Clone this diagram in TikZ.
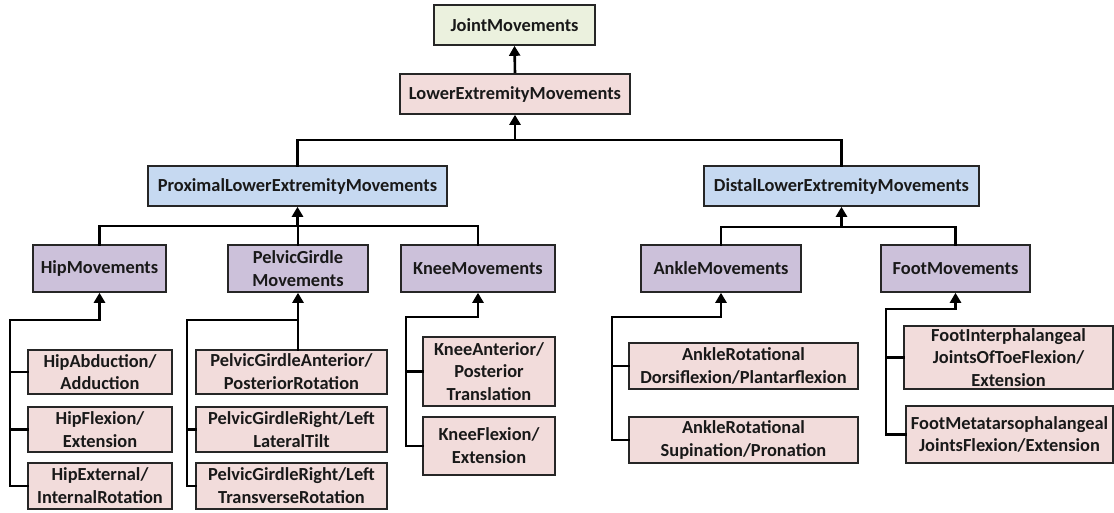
\documentclass[tikz,border=0pt]{standalone}
\usepackage{fontspec}
\setmainfont{Carlito}
\usetikzlibrary{arrows.meta}
\definecolor{rootfill}{HTML}{EBF1DE}
\definecolor{pinkfill}{HTML}{F2DCDB}
\definecolor{bluefill}{HTML}{C6D9F1}
\definecolor{lavfill}{HTML}{CCC1DA}
\definecolor{edgegray}{HTML}{262626}
\tikzset{
  box/.style={draw=edgegray, line width=1.6pt, inner sep=0pt, align=center,
    font=\fontsize{18.4}{22.8}\selectfont\bfseries, text=black!90},
  rootbox/.style={box, fill=rootfill},
  pinkbox/.style={box, fill=pinkfill},
  bluebox/.style={box, fill=bluefill},
  lavbox/.style={box, fill=lavfill},
  wire/.style={line width=2.6pt, line cap=rect, line join=miter},
  arr/.style={line width=2.6pt, -{Triangle[width=11pt,length=10pt]}},
}
\begin{document}
\begin{tikzpicture}[x=1pt,y=-1pt]
\useasboundingbox (0,0) rectangle (1114,512);

% top levels
\node[rootbox, minimum width=161pt, minimum height=40pt] (jm) at (514.5,25) {JointMovements};
\node[pinkbox, minimum width=230pt, minimum height=40pt] (lem) at (515,94) {LowerExtremityMovements};
\node[bluebox, minimum width=299pt, minimum height=40pt] (prox) at (297.5,186) {ProximalLowerExtremityMovements};
\node[bluebox, minimum width=275pt, minimum height=40pt] (dist) at (841.5,186) {DistalLowerExtremityMovements};

% joint groups
\node[lavbox, minimum width=133pt, minimum height=47pt] (hip) at (99.5,268.5) {HipMovements};
\node[lavbox, minimum width=140pt, minimum height=47pt] (pelvic) at (298,268.5) {PelvicGirdle\\Movements};
\node[lavbox, minimum width=154pt, minimum height=47pt] (knee) at (478,268.5) {KneeMovements};
\node[lavbox, minimum width=160pt, minimum height=47pt] (ankle) at (721,268.5) {AnkleMovements};
\node[lavbox, minimum width=149pt, minimum height=47pt] (foot) at (955.5,268.5) {FootMovements};

% leaf movements
\node[pinkbox, minimum width=144pt, minimum height=44pt] (hipab) at (100,372) {HipAbduction/\\Adduction};
\node[pinkbox, minimum width=144pt, minimum height=45pt] (hipflex) at (100,429.5) {HipFlexion/\\Extension};
\node[pinkbox, minimum width=144pt, minimum height=46pt] (hipext) at (100,486) {HipExternal/\\InternalRotation};

\node[pinkbox, minimum width=191pt, minimum height=44pt] (pga) at (291.5,372) {PelvicGirdleAnterior/\\PosteriorRotation};
\node[pinkbox, minimum width=191pt, minimum height=45pt] (pgl) at (291.5,429.5) {PelvicGirdleRight/Left\\LateralTilt};
\node[pinkbox, minimum width=191pt, minimum height=46pt] (pgt) at (291.5,486) {PelvicGirdleRight/Left\\TransverseRotation};

\node[pinkbox, minimum width=132pt, minimum height=69pt] (kneeant) at (489,371.5) {KneeAnterior/\\Posterior\\Translation};
\node[pinkbox, minimum width=132pt, minimum height=58pt] (kneeflex) at (489,446) {KneeFlexion/\\Extension};

\node[pinkbox, minimum width=229pt, minimum height=46pt] (ankdors) at (743.5,366) {AnkleRotational\\Dorsiflexion/Plantarflexion};
\node[pinkbox, minimum width=229pt, minimum height=46pt] (anksup) at (743.5,440) {AnkleRotational\\Supination/Pronation};

\node[pinkbox, minimum width=209pt, minimum height=63pt] (footint) at (1008.5,357.5) {FootInterphalangeal\\JointsOfToeFlexion/\\Extension};
\node[pinkbox, minimum width=207pt, minimum height=57pt] (footmeta) at (1009.5,434.5) {FootMetatarsophalangeal\\JointsFlexion/Extension};

% bus coordinates
\coordinate (b1) at (515,140);
\coordinate (b2) at (298,226);
\coordinate (b3) at (841,227);
\coordinate (hipbus) at (10,320);
\coordinate (pelbus) at (187,320);
\coordinate (kneebus) at (406,317);
\coordinate (ankbus) at (612,317);
\coordinate (footbus) at (886,309);

% root links
\draw[arr] (lem.north) -- (jm.south);
\draw[wire] (prox.north) -- (prox.north |- b1) -- (dist.north |- b1) -- (dist.north);
\draw[arr] (lem.south |- b1) -- (lem.south);

% proximal branch
\draw[wire] (hip.north) -- (hip.north |- b2) -- (knee.north |- b2) -- (knee.north);
\draw[wire] (pelvic.north) -- (pelvic.north |- b2);
\draw[arr] (prox.south |- b2) -- (prox.south);

% distal branch
\draw[wire] (ankle.north) -- (ankle.north |- b3) -- (foot.north |- b3) -- (foot.north);
\draw[arr] (dist.south |- b3) -- (dist.south);

% hip children
\draw[wire] (hip.south |- hipbus) -- (hipbus) -- (hipbus |- hipext.west) -- (hipext.west);
\draw[wire] (hipbus |- hipab.west) -- (hipab.west);
\draw[wire] (hipbus |- hipflex.west) -- (hipflex.west);
\draw[arr] (hip.south |- hipbus) -- (hip.south);

% pelvic girdle children
\draw[wire] (pelvic.south |- pga.north) -- (pelvic.south |- pelbus) -- (pelbus) -- (pelbus |- pgt.west) -- (pgt.west);
\draw[wire] (pelbus |- pgl.west) -- (pgl.west);
\draw[arr] (pelvic.south |- pelbus) -- (pelvic.south);

% knee children
\draw[wire] (knee.south |- kneebus) -- (kneebus) -- (kneebus |- kneeflex.west) -- (kneeflex.west);
\draw[wire] (kneebus |- kneeant.west) -- (kneeant.west);
\draw[arr] (knee.south |- kneebus) -- (knee.south);

% ankle children
\draw[wire] (ankle.south |- ankbus) -- (ankbus) -- (ankbus |- anksup.west) -- (anksup.west);
\draw[wire] (ankbus |- ankdors.west) -- (ankdors.west);
\draw[arr] (ankle.south |- ankbus) -- (ankle.south);

% foot children
\draw[wire] (foot.south |- footbus) -- (footbus) -- (footbus |- footmeta.west) -- (footmeta.west);
\draw[wire] (footbus |- footint.west) -- (footint.west);
\draw[arr] (foot.south |- footbus) -- (foot.south);
\end{tikzpicture}
\end{document}
